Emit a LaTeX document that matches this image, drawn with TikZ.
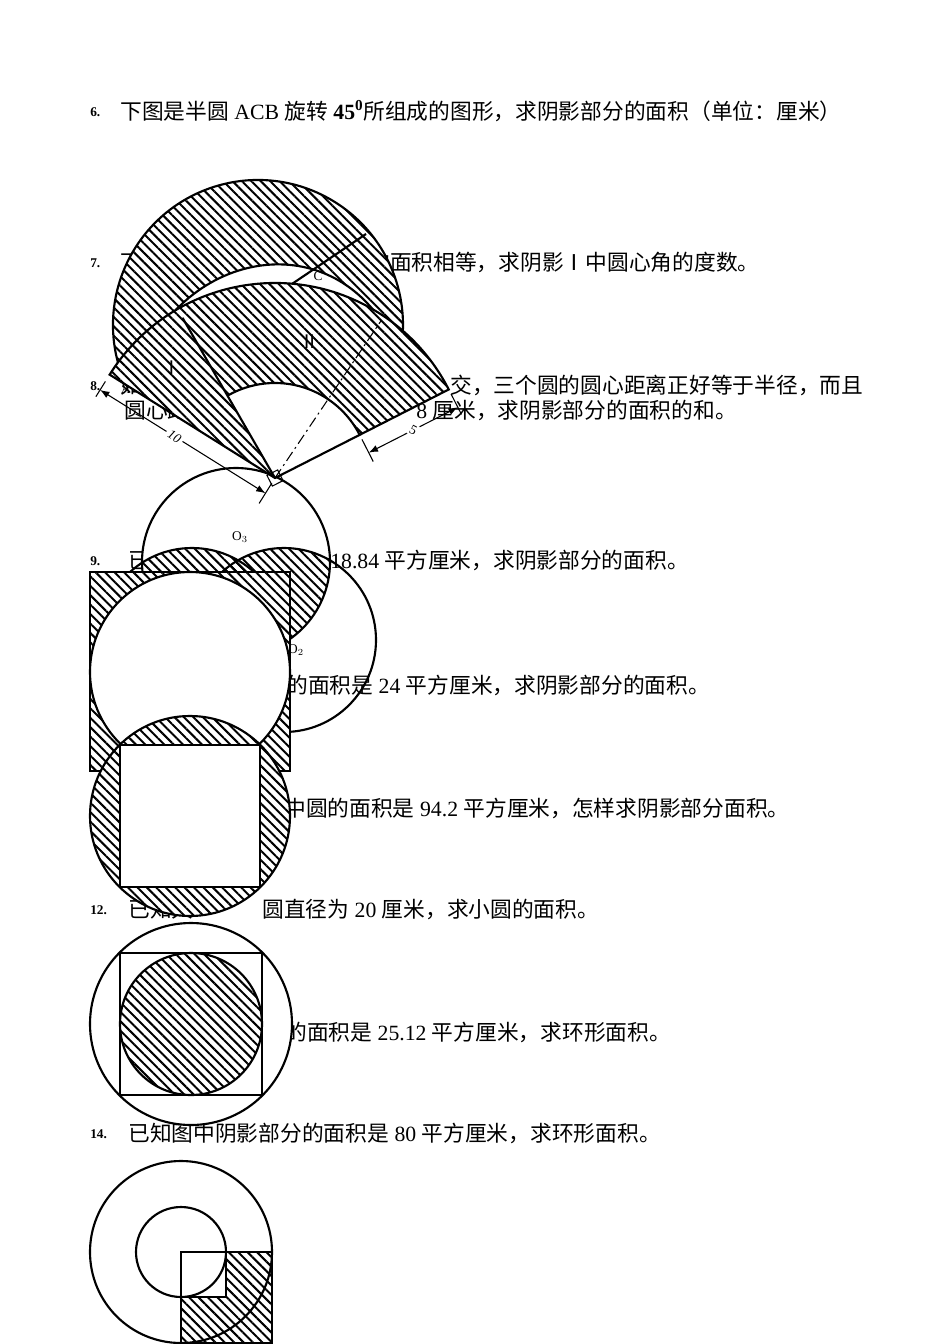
\documentclass[tikz,border=0pt]{standalone}
\usepackage{fontspec}
\setmainfont{Liberation Serif}
\newfontfamily\cjk{Noto Sans CJK SC}
\usetikzlibrary{patterns.meta,arrows.meta,calc}
\newcommand{\cj}[1]{{\cjk #1}}
\tikzset{
  txt/.style={anchor=west,inner sep=0pt,font=\fontsize{16.3}{18}\selectfont},
  num/.style={anchor=west,inner sep=0pt,font=\fontsize{10}{11}\selectfont\bfseries},
  lbl/.style={inner sep=0pt,font=\fontsize{10}{11}\selectfont},
  hatch/.style={pattern={Lines[angle=-45,distance=5pt,line width=1.5pt]}},
  edge/.style={line width=1.6pt},
  thin/.style={line width=0.8pt}
}
\begin{document}
\begin{tikzpicture}[x=0.75pt,y=-0.75pt]
\useasboundingbox (0,0) rectangle (950,1344);
% ---------- texts ----------
\node[num] (n6) at (90,112) {6.};
\node[txt] (t6) at (120,111) {\cj{下图是半圆} ACB \cj{旋转} \textbf{45$^{\mathbf{0}}$}\cj{所组成的图形，求阴影部分的面积（单位：厘米）}};
\node[num] (n7) at (90,263) {7.};
\node[txt] (t7a) at (120,262) {\cj{下图中阴影Ⅰ与阴影}};
\node[txt] (t7b) at (368,262) {\cj{的面积相等，求阴影Ⅰ中圆心角的度数。}};
\node[num] (n8) at (90,386) {8.};
\node[txt] (t8a) at (120,385) {\cj{如图，三个等圆两两}};
\node[txt] (t8b) at (450,385) {\cj{交，三个圆的圆心距离正好等于半径，而且}};
\node[txt] (t8c) at (124,410) {\cj{圆心距离都是}};
\node[txt] (t8d) at (416,410) {8 \cj{厘米，求阴影部分的面积的和。}};
\node[num] (n9) at (90,561) {9.};
\node[txt] (t9a) at (128,560) {\cj{已知每个圆的面积}};
\node[txt] (t9b) at (330,560) {18.84 \cj{平方厘米，求阴影部分的面积。}};
\node[txt] (t10) at (286,685) {\cj{的面积是} 24 \cj{平方厘米，求阴影部分的面积。}};
\node[txt] (t11) at (284,808) {\cj{中圆的面积是} 94.2 \cj{平方厘米，怎样求阴影部分面积。}};
\node[num] (n12) at (90,910) {12.};
\node[txt] (t12a) at (128,909) {\cj{已知大}};
\node[txt] (t12b) at (262,909) {\cj{圆直径为} 20 \cj{厘米，求小圆的面积。}};
\node[txt] (t13) at (285,1032) {\cj{的面积是} 25.12 \cj{平方厘米，求环形面积。}};
\node[num] (n14) at (90,1134) {14.};
\node[txt] (t14) at (128,1133) {\cj{已知图中阴影部分的面积是} 80 \cj{平方厘米，求环形面积。}};
% ---------- figure 8 (three circles) ----------
\coordinate (Oa) at (192,640);
\coordinate (Ob) at (284,640);
\coordinate (Oc) at (236,562);
\fill[white] (Oc) circle[radius=94];
\begin{scope}\clip (Oa) circle[radius=92]; \fill[hatch] (Oc) circle[radius=94]; \fill[hatch] (Ob) circle[radius=92];\end{scope}
\begin{scope}\clip (Ob) circle[radius=92]; \fill[hatch] (Oc) circle[radius=94];\end{scope}
\draw[edge] (Oa) circle[radius=92] (Ob) circle[radius=92] (Oc) circle[radius=94];
\node[lbl] (o3) at (240,537) {O$_3$};
\node[lbl] (o2) at (296,650) {O$_2$};
% ---------- figure 6 back ----------
\coordinate (M) at (258,325);
\fill[white] (M) ++(161:145) arc[start angle=161,end angle=368,radius=145] -- cycle;
\fill[hatch] (M) ++(161:145) arc[start angle=161,end angle=368,radius=145] -- cycle;
\fill[white] (140,365) .. controls (190,245) and (340,225) .. (395,345) -- cycle;
\draw[edge] (M) ++(161:145) arc[start angle=161,end angle=368,radius=145];
\draw[edge] (140,365) .. controls (190,245) and (340,225) .. (395,345);
\coordinate (C1) at (283,290);
\coordinate (C2) at (366,234);
\draw[edge] (C1) -- (C2);
\node[lbl] (c) at (318,276) {C};
% ---------- figure 6 front ----------
\coordinate (O) at (275,478);
\fill[white] (O) -- ++(-148:195) arc[start angle=-148,end angle=-27,radius=195] -- cycle;
\fill[hatch] (O) -- ++(-148:195) arc[start angle=-148,end angle=-27,radius=195] -- cycle;
\fill[white] (O) -- ++(-120:95) arc[start angle=-120,end angle=-27,radius=95] -- cycle;
\draw[edge] (O) -- ++(-148:195) arc[start angle=-148,end angle=-27,radius=195] -- cycle;
\draw[edge] (O) ++(-120:95) arc[start angle=-120,end angle=-27,radius=95];
\draw[edge] (O) -- ++(-120:185);
\draw[thin,dash pattern=on 8pt off 3pt on 1.5pt off 3pt] (O) -- ++(-56:190);
\draw[thin] (O) ++(-27:6) ++(63:-6) -- ++(-27:-12) -- ++(63:12) -- ++(-27:12) -- cycle;
\node[lbl] (A) at (126,389) {A};
\node[lbl,font=\fontsize{14}{16}\selectfont\cjk] (r1) at (172,368) {Ⅰ};
\node[lbl,font=\fontsize{14}{16}\selectfont\cjk] (r2) at (310,342) {Ⅱ};
% dimension 10
\coordinate (d1) at ($(O)+(-148:195)+(122:18)$);
\coordinate (d2) at ($(O)+(122:18)$);
\draw[thin] ($(O)+(-148:195)+(122:8)$) -- ($(O)+(-148:195)+(122:26)$);
\draw[thin] ($(O)+(122:6)$) -- ($(O)+(122:30)$);
\draw[thin,{Latex[length=7pt]}-{Latex[length=7pt]}] (d1) -- (d2);
\node[lbl,fill=white,inner sep=2pt,rotate=-32] (ten) at ($(d1)!0.45!(d2)$) {\itshape 10};
% dimension 5
\coordinate (e1) at ($(O)+(-27:95)+(63:20)$);
\coordinate (e2) at ($(O)+(-27:195)+(63:20)$);
\draw[thin] ($(O)+(-27:95)+(63:5)$) -- ($(O)+(-27:95)+(63:30)$);
\draw[thin] ($(O)+(-27:195)+(63:5)$) -- ($(O)+(-27:195)+(63:28)$);
\draw[thin,{Latex[length=7pt]}-{Latex[length=7pt]}] (e1) -- (e2);
\node[lbl,fill=white,inner sep=1pt,rotate=-27] (five) at ($(e1)!0.5!(e2)$) {5};
% ---------- figure 9 ----------
\fill[white] (90,572) rectangle (290,771);
\fill[hatch] (90,572) rectangle (290,771);
\draw[edge,fill=white] (190,672) circle[radius=100];
\draw[edge] (90,572) rectangle (290,771);
% ---------- figure 10 ----------
\fill[white] (190,816) circle[radius=100];
\fill[hatch] (190,816) circle[radius=100];
\draw[edge] (190,816) circle[radius=100];
\draw[edge,fill=white] (120,745) rectangle (260,887);
% ---------- figure 12 ----------
\draw[edge,fill=white] (191,1024) circle[radius=101];
\draw[edge] (120,953) rectangle (262,1095);
\fill[hatch] (191,1024) circle[radius=71];
\draw[edge] (191,1024) circle[radius=71];
% ---------- figure 14 ----------
\coordinate (Q) at (181,1252);
\fill[hatch] (181,1252) rectangle (272,1343);
\fill[white] (181,1252) rectangle (226,1297);
\draw[edge] (Q) circle[radius=91];
\draw[edge] (Q) circle[radius=45];
\draw[edge] (181,1252) rectangle (272,1343);
\draw[edge] (181,1252) rectangle (226,1297);
\end{tikzpicture}
\end{document}
